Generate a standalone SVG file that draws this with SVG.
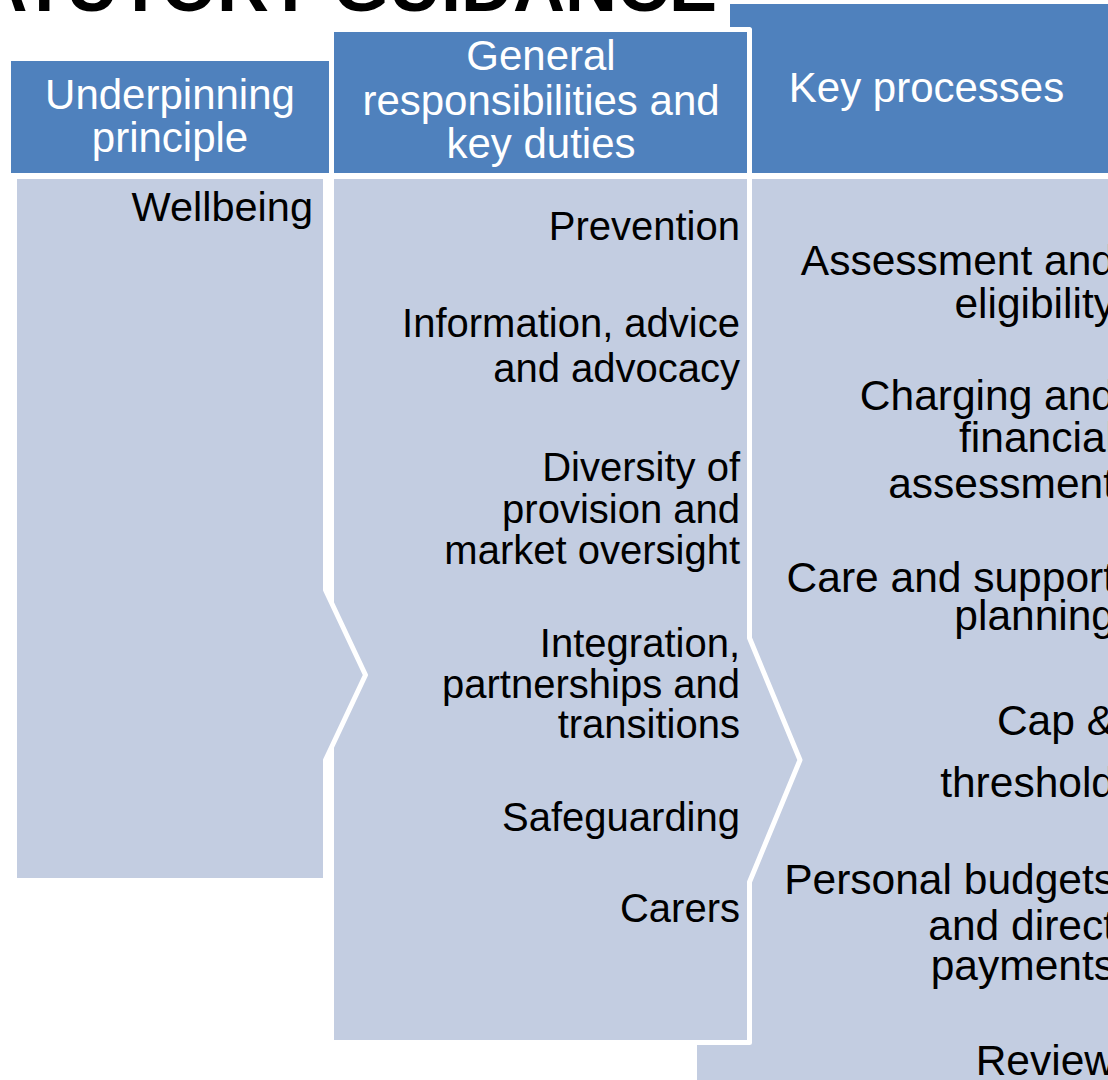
<svg xmlns="http://www.w3.org/2000/svg" width="1108" height="1080" viewBox="0 0 1108 1080">
  <style>
    .head { fill: #4F81BD; }
    .body { fill: #C3CDE1; }
    .edge { stroke: #FFFFFF; stroke-width: 5; stroke-linejoin: round; }
    .ht { font-family: "Liberation Sans", Arial, sans-serif; fill: #FFFFFF; text-anchor: middle; font-size: 42px; }
    .bt { font-family: "Liberation Sans", Arial, sans-serif; fill: #000000; text-anchor: end; }
    .title { font-family: "Liberation Sans", Arial, sans-serif; font-weight: bold; font-size: 72px; fill: #000000; text-anchor: end; }
  </style>
  <rect width="1108" height="1080" fill="#FFFFFF"/>

  <!-- slide title, cropped at the top edge -->
  <text class="title" x="717" y="11">STATUTORY GUIDANCE</text>

  <!-- third column: key processes (drawn first, sits behind) -->
  <g id="col-processes">
    <rect class="head" x="730" y="4" width="400" height="169"/>
    <rect class="body" x="697" y="179" width="420" height="910"/>
    <text class="ht" x="926.5" y="102">Key processes</text>
    <g class="bt" font-size="42.5">
      <text x="1115" y="275">Assessment and</text>
      <text x="1115" y="318">eligibility</text>
      <text x="1115" y="410">Charging and</text>
      <text x="1115" y="452">financial</text>
      <text x="1115" y="498">assessment</text>
      <text x="1115" y="592">Care and support</text>
      <text x="1115" y="630">planning</text>
      <text x="1115" y="735">Cap &amp;</text>
      <text x="1115" y="797">threshold</text>
      <text x="1115" y="894">Personal budgets</text>
      <text x="1115" y="940">and direct</text>
      <text x="1115" y="980">payments</text>
      <text x="1115" y="1075">Review</text>
    </g>
  </g>

  <!-- second column: general responsibilities, chevron on its right side -->
  <g id="col-duties">
    <rect class="head edge" x="331.5" y="29.5" width="418" height="146"/>
    <polygon class="body edge" points="331.5,176.5 749.5,176.5 749.5,638 800,760 749.5,882 749.5,1042.5 331.5,1042.5"/>
    <g class="ht">
      <text x="541" y="70">General</text>
      <text x="541" y="115">responsibilities and</text>
      <text x="541" y="158">key duties</text>
    </g>
    <g class="bt" font-size="40">
      <text x="740" y="240">Prevention</text>
      <text x="740" y="337">Information, advice</text>
      <text x="740" y="382">and advocacy</text>
      <text x="740" y="481">Diversity of</text>
      <text x="740" y="523">provision and</text>
      <text x="740" y="564">market oversight</text>
      <text x="740" y="657">Integration,</text>
      <text x="740" y="698">partnerships and</text>
      <text x="740" y="738">transitions</text>
      <text x="740" y="831">Safeguarding</text>
      <text x="740" y="922">Carers</text>
    </g>
  </g>

  <!-- first column: underpinning principle, chevron on its right side -->
  <g id="col-principle">
    <rect class="head" x="11" y="61" width="318" height="112"/>
    <polygon class="body edge" points="14.5,176.5 325.5,176.5 325.5,590 365.5,675 325.5,760 325.5,880.5 14.5,880.5"/>
    <g class="ht">
      <text x="170" y="109">Underpinning</text>
      <text x="170" y="152">principle</text>
    </g>
    <text class="bt" x="313" y="221" font-size="41.5">Wellbeing</text>
  </g>
</svg>
